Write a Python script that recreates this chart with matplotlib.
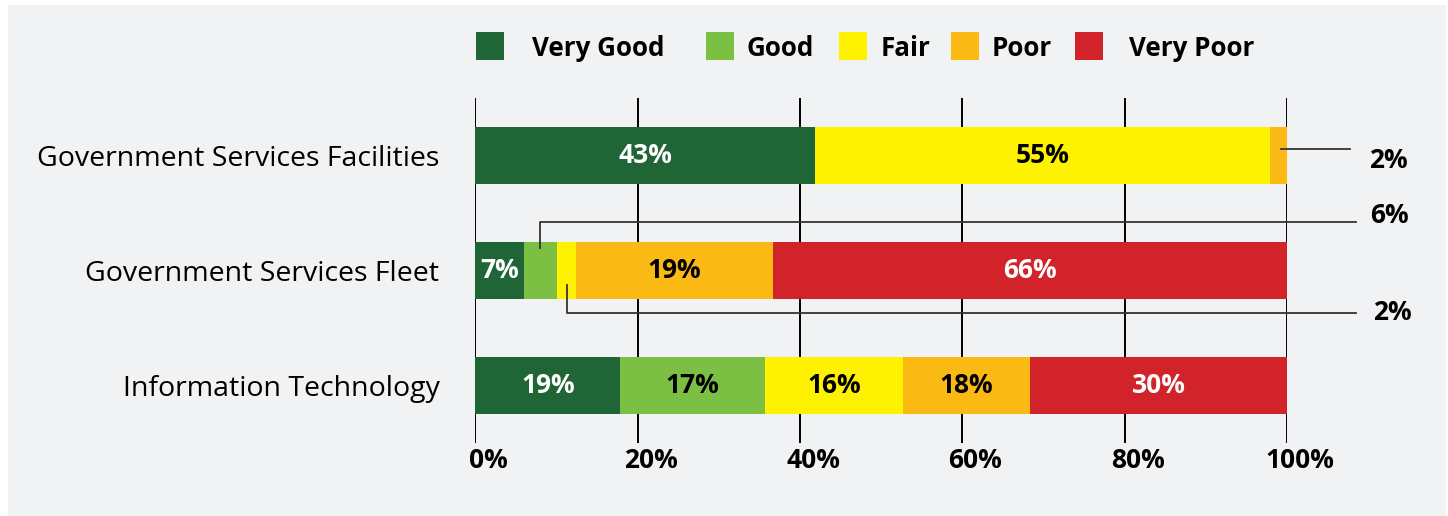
import matplotlib
matplotlib.use("Agg")
import matplotlib.pyplot as plt
from matplotlib.patches import Rectangle
from matplotlib.transforms import ScaledTranslation

# ---- data ----
categories = ["Government Services Facilities", "Government Services Fleet", "Information Technology"]
ratings = ["Very Good", "Good", "Fair", "Poor", "Very Poor"]
very_good = [41.8, 6.0, 17.8]
good = [0.0, 4.1, 17.9]
fair = [56.1, 2.3, 17.0]
poor = [2.1, 24.2, 15.6]
very_poor = [0.0, 63.4, 31.7]
very_good_lbl = ["43%", "7%", "19%"]
good_lbl = ["", "6%", "17%"]
fair_lbl = ["55%", "2%", "16%"]
poor_lbl = ["2%", "19%", "18%"]
very_poor_lbl = ["", "66%", "30%"]
xticks = [0, 20, 40, 60, 80, 100]
xtick_labels = ["0%", "20%", "40%", "60%", "80%", "100%"]

colors = ["#206536", "#7bc043", "#fff200", "#fbb913", "#d2232a"]
text_colors = ["white", "black", "black", "black", "white"]
series = [very_good, good, fair, poor, very_poor]
labels = [very_good_lbl, good_lbl, fair_lbl, poor_lbl, very_poor_lbl]

FONT = "Open Sans"
plt.rcParams["font.family"] = [FONT, "DejaVu Sans"]

W, H = 1448, 516
fig = plt.figure(figsize=(W / 100, H / 100), dpi=100)
fig.patch.set_facecolor("white")
bg = "#f1f2f4"
fig.patches.append(Rectangle((8 / W, 0), 1438 / W, (H - 5) / H, transform=fig.transFigure,
                             facecolor=bg, edgecolor="none", zorder=-10))

ax = fig.add_axes([475.5 / W, 1 - 443 / H, (1287 - 475.5) / W, (443 - 98) / H])
ax.set_facecolor("none")
for s in ax.spines.values():
    s.set_visible(False)

LBL = 19
ypos = list(range(len(categories)))
left = [0.0] * len(categories)
for vals, col, lbls, tc in zip(series, colors, labels, text_colors):
    ax.barh(ypos, vals, left=left, height=0.5, color=col, edgecolor="none", zorder=3)
    for i, (v, l, lab) in enumerate(zip(vals, left, lbls)):
        if lab and v >= 5:
            ax.text(l + v / 2, i, lab, ha="center", va="center", color=tc,
                    fontsize=LBL, fontweight="bold", zorder=4)
    left = [a + b for a, b in zip(left, vals)]

# callouts for narrow segments
lc = "#333333"
lw = 1.3
# GSF poor
ax.plot([99.3, 107.8], [-0.057, -0.057], color=lc, lw=lw, clip_on=False, zorder=5)
ax.text(110.1, 0.04, poor_lbl[0], ha="left", va="center", fontsize=LBL, fontweight="bold", zorder=5, clip_on=False)
# Fleet good
ax.plot([8.0, 8.0, 108.5], [0.80, 0.578, 0.578], color=lc, lw=lw, clip_on=False, zorder=5)
ax.text(110.2, 0.526, good_lbl[1], ha="left", va="center", fontsize=LBL, fontweight="bold", zorder=5, clip_on=False)
# Fleet fair
ax.plot([11.3, 11.3, 108.5], [1.13, 1.367, 1.367], color=lc, lw=lw, clip_on=False, zorder=5)
ax.text(110.6, 1.361, fair_lbl[1], ha="left", va="center", fontsize=LBL, fontweight="bold", zorder=5, clip_on=False)

ax.set_xlim(0, 100)
ax.set_ylim(2.5, -0.5)
ax.set_xticks(xticks)
ax.set_xticklabels(xtick_labels, fontsize=19, fontweight="bold")
ax.set_yticks(ypos)
ax.set_yticklabels(categories, fontsize=20.5)
ax.tick_params(axis="x", length=0, pad=3)
ax.tick_params(axis="y", length=0, pad=26)
off = ScaledTranslation(13 / 100, 0, fig.dpi_scale_trans)
for t in ax.get_xticklabels():
    t.set_transform(t.get_transform() + off)
for x in xticks:
    ax.axvline(x, color="black", lw=1.4, zorder=1)

# legend (manual)
sq_x = [476, 706, 839, 951, 1075]
tx_x = [532, 746, 881, 992, 1129]
for name, col, sx, tx in zip(ratings, colors, sq_x, tx_x):
    fig.patches.append(Rectangle((sx / W, 1 - 60 / H), 28 / W, 28 / H, transform=fig.transFigure,
                                 facecolor=col, edgecolor="none"))
    fig.text(tx / W, 1 - 56 / H, name, ha="left", va="baseline", fontsize=18.7, fontweight="bold")

fig.savefig("out.png", dpi=100, facecolor=fig.get_facecolor())
